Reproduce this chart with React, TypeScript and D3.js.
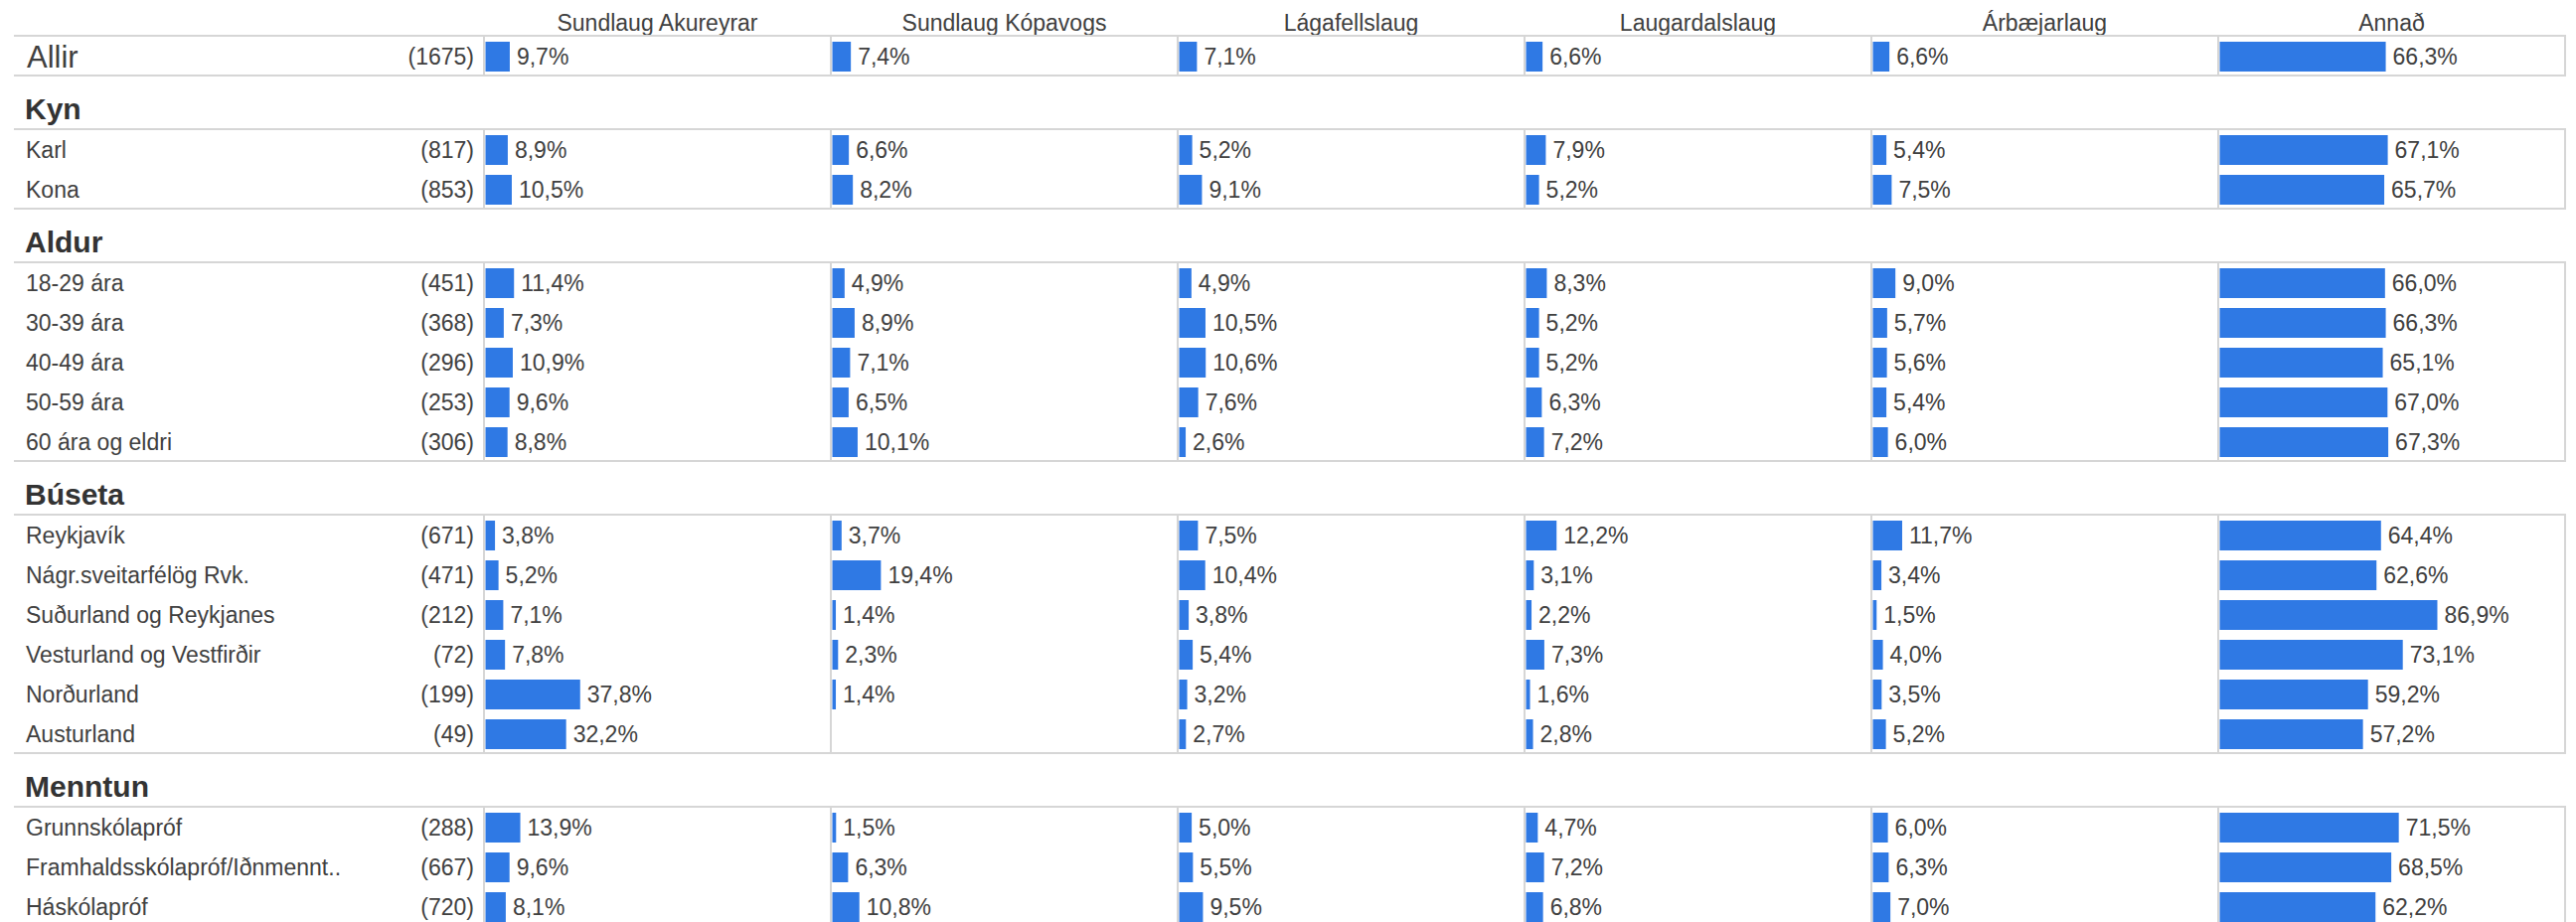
import React from "react";
import * as d3 from "d3";

const columns = [
  "Sundlaug Akureyrar",
  "Sundlaug Kópavogs",
  "Lágafellslaug",
  "Laugardalslaug",
  "Árbæjarlaug",
  "Annað",
];

const groupTitles = ["", "Kyn", "Aldur", "Búseta", "Menntun"];

const rowLabels = [
  "Allir",
  "Karl",
  "Kona",
  "18-29 ára",
  "30-39 ára",
  "40-49 ára",
  "50-59 ára",
  "60 ára og eldri",
  "Reykjavík",
  "Nágr.sveitarfélög Rvk.",
  "Suðurland og Reykjanes",
  "Vesturland og Vestfirðir",
  "Norðurland",
  "Austurland",
  "Grunnskólapróf",
  "Framhaldsskólapróf/Iðnmennt..",
  "Háskólapróf",
];

const rowGroup = [0, 1, 1, 2, 2, 2, 2, 2, 3, 3, 3, 3, 3, 3, 4, 4, 4];

const rowCounts = [1675, 817, 853, 451, 368, 296, 253, 306, 671, 471, 212, 72, 199, 49, 288, 667, 720];

const sundlaugAkureyrar = [9.7, 8.9, 10.5, 11.4, 7.3, 10.9, 9.6, 8.8, 3.8, 5.2, 7.1, 7.8, 37.8, 32.2, 13.9, 9.6, 8.1];
const sundlaugKopavogs = [7.4, 6.6, 8.2, 4.9, 8.9, 7.1, 6.5, 10.1, 3.7, 19.4, 1.4, 2.3, 1.4, null, 1.5, 6.3, 10.8];
const lagafellslaug = [7.1, 5.2, 9.1, 4.9, 10.5, 10.6, 7.6, 2.6, 7.5, 10.4, 3.8, 5.4, 3.2, 2.7, 5.0, 5.5, 9.5];
const laugardalslaug = [6.6, 7.9, 5.2, 8.3, 5.2, 5.2, 6.3, 7.2, 12.2, 3.1, 2.2, 7.3, 1.6, 2.8, 4.7, 7.2, 6.8];
const arbaejarlaug = [6.6, 5.4, 7.5, 9.0, 5.7, 5.6, 5.4, 6.0, 11.7, 3.4, 1.5, 4.0, 3.5, 5.2, 6.0, 6.3, 7.0];
const annad = [66.3, 67.1, 65.7, 66.0, 66.3, 65.1, 67.0, 67.3, 64.4, 62.6, 86.9, 73.1, 59.2, 57.2, 71.5, 68.5, 62.2];

const seriesValues: (number | null)[][] = [
  sundlaugAkureyrar,
  sundlaugKopavogs,
  lagafellslaug,
  laugardalslaug,
  arbaejarlaug,
  annad,
];

const W = 2592;
const H = 928;
const FONT = "'Liberation Sans', Arial, sans-serif";
const TEXT = "#404040";
const LINE = "#d6d6d6";
const BAR = "#2f79e4";

const LEFT = 14;
const PANE_LEFT = 487;
const RIGHT = 2581;
const ROW_H = 40;
const BAR_H = 30;
const BAR_PAD = 6;
const FIRST_TOP = 36;
const GROUP_GAP = 54;

const fmt = (v: number) => v.toFixed(1).replace(".", ",") + "%";

export default function App() {
  const colScale = d3.scaleBand<string>().domain(columns).range([PANE_LEFT, RIGHT]).padding(0);
  const x = d3.scaleLinear().domain([0, 100]).range([0, 252]);

  // block layout
  const blocks: { g: number; top: number; rows: number[] }[] = [];
  let top = FIRST_TOP;
  groupTitles.forEach((_, g) => {
    const rows = rowGroup.map((gg, i) => (gg === g ? i : -1)).filter((i) => i >= 0);
    blocks.push({ g, top, rows });
    top += rows.length * ROW_H + GROUP_GAP;
  });

  const rowY = new Map<number, number>();
  blocks.forEach((b) => b.rows.forEach((r, k) => rowY.set(r, b.top + BAR_PAD + k * ROW_H)));

  return (
    <div style={{ position: "absolute", left: 0, top: 0 }}>
      <svg width={W} height={H} style={{ display: "block", background: "#fff" }} fontFamily={FONT}>
        {/* column headers */}
        {columns.map((c) => (
          <text
            key={c}
            x={(colScale(c) as number) + colScale.bandwidth() / 2}
            y={31}
            textAnchor="middle"
            fontSize={23}
            fill={TEXT}
          >
            {c}
          </text>
        ))}

        {blocks.map((b) => {
          const bottom = b.top + b.rows.length * ROW_H;
          return (
            <g key={b.g}>
              {b.g > 0 && (
                <text x={25} y={b.top - 10} fontSize={30} fontWeight="bold" fill="#333">
                  {groupTitles[b.g]}
                </text>
              )}
              <line x1={LEFT} x2={RIGHT + 1} y1={b.top} y2={b.top} stroke={LINE} strokeWidth={2} />
              <line x1={LEFT} x2={RIGHT + 1} y1={bottom} y2={bottom} stroke={LINE} strokeWidth={2} />
              {columns.map((c) => (
                <line
                  key={c}
                  x1={colScale(c) as number}
                  x2={colScale(c) as number}
                  y1={b.top}
                  y2={bottom}
                  stroke={LINE}
                  strokeWidth={2}
                />
              ))}
              <line x1={RIGHT} x2={RIGHT} y1={b.top} y2={bottom} stroke={LINE} strokeWidth={2} />
            </g>
          );
        })}

        {rowLabels.map((label, i) => {
          const y0 = rowY.get(i) as number;
          const cy = y0 + BAR_H / 2;
          const isAll = rowGroup[i] === 0;
          return (
            <g key={label}>
              <text x={isAll ? 27 : 26} y={cy} dy="0.36em" fontSize={isAll ? 31 : 23} fill={TEXT}>
                {label}
              </text>
              <text x={477} y={cy} dy="0.36em" textAnchor="end" fontSize={23} fill={TEXT}>
                ({rowCounts[i]})
              </text>
              {columns.map((c, ci) => {
                const v = seriesValues[ci][i];
                if (v == null) return null;
                const x0 = (colScale(c) as number) + 1.5;
                const w = x(v);
                return (
                  <g key={c}>
                    <rect x={x0} y={y0} width={w} height={BAR_H} fill={BAR} />
                    <text x={x0 + w + 7} y={cy} dy="0.36em" fontSize={23} fill={TEXT}>
                      {fmt(v)}
                    </text>
                  </g>
                );
              })}
            </g>
          );
        })}
      </svg>
    </div>
  );
}
